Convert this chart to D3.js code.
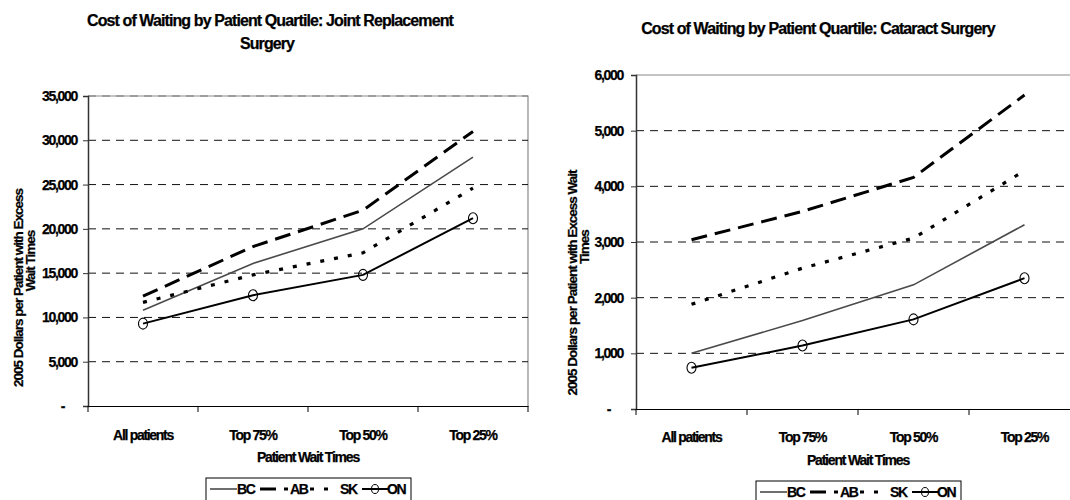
<!DOCTYPE html>
<html lang="en">
<head>
<meta charset="UTF-8">
<title>Cost of Waiting by Patient Quartile</title>
<style>
  body { margin: 0; background: #fff; overflow: hidden; }
  text { font-family: "Liberation Sans", Arial, sans-serif; font-weight: bold; fill: #000; stroke: #000; stroke-width: 0.25px; }
</style>
</head>
<body>
<div class="canvas"></div>
<script src="https://cdnjs.cloudflare.com/ajax/libs/d3/7.8.2/d3.min.js"></script>
<script>
// categories + series
const categories = ["All patients", "Top 75%", "Top 50%", "Top 25%"];
const seriesNames = ["BC", "AB", "SK", "ON"];

// joint replacement surgery (2005 dollars)
const jointBC = [10800, 16100, 20000, 28100];
const jointAB = [12400, 18000, 22100, 31000];
const jointSK = [11700, 14800, 17300, 24600];
const jointON = [9300, 12500, 14800, 21200];
const jointTicks = [0, 5000, 10000, 15000, 20000, 25000, 30000, 35000];

// cataract surgery (2005 dollars)
const catBC = [1000, 1590, 2230, 3310];
const catAB = [3040, 3550, 4160, 5640];
const catSK = [1880, 2530, 3070, 4280];
const catON = [740, 1140, 1610, 2350];
const catTicks = [0, 1000, 2000, 3000, 4000, 5000, 6000];

const styles = {
    BC: { stroke: "#4a4a4a", width: 1.6, dash: null },
    AB: { stroke: "#000", width: 3, dash: "16,8" },
    SK: { stroke: "#000", width: 3.2, dash: "4,10" },
    ON: { stroke: "#000", width: 2, dash: null }
};

const svg = d3.select(".canvas").append("svg")
    .attr("width", 1070)
    .attr("height", 500);

function drawPanel(cfg) {
    const x = d3.scaleBand().domain(categories).range([cfg.x0, cfg.x1]);
    const y = d3.scaleLinear().domain([0, d3.max(cfg.ticks)]).range([cfg.yBottom, cfg.yTop]);
    const g = svg.append("g");

    // plot border (top + right)
    g.append("path")
        .attr("d", `M${cfg.x0},${cfg.yTop}H${cfg.x1}V${cfg.yBottom}`)
        .attr("fill", "none").attr("stroke", "#8a8a8a").attr("stroke-width", 1.2);

    // gridlines
    const gridVals = cfg.ticks.filter(t => t > 0 && (cfg.topGrid || t < d3.max(cfg.ticks)));
    g.selectAll(".grid").data(gridVals).enter().append("line")
        .attr("x1", cfg.x0).attr("x2", cfg.x1)
        .attr("y1", d => y(d)).attr("y2", d => y(d))
        .attr("stroke", d => d === d3.max(cfg.ticks) ? "#777" : "#111")
        .attr("stroke-width", 1)
        .attr("stroke-dasharray", "8,6");

    // y axis
    const yAxis = d3.axisLeft(y).tickValues(cfg.ticks).tickSize(5).tickPadding(cfg.tickPad)
        .tickFormat(d => d === 0 ? "-" : d3.format(",")(d));
    const yg = g.append("g").attr("transform", `translate(${cfg.x0},0)`).call(yAxis);
    yg.select(".domain").attr("stroke", "#333").attr("stroke-width", 1.5);
    yg.selectAll(".tick line").attr("stroke", "#333");
    yg.selectAll(".tick text")
        .attr("font-size", 14)
        .attr("letter-spacing", "-1.3px")
        .attr("dx", d => d === 0 ? -13 : 0);

    // x axis (labels at band centres, tick marks at band edges)
    const xAxis = d3.axisBottom(x).tickSize(0).tickPadding(cfg.catPad);
    const xg = g.append("g").attr("transform", `translate(0,${cfg.yBottom})`).call(xAxis);
    xg.select(".domain").attr("stroke", "#000").attr("stroke-width", 1.2);
    xg.selectAll(".tick text")
        .attr("font-size", 14)
        .attr("letter-spacing", "-1.3px");
    const edges = categories.map(c => x(c)).concat([cfg.x1]);
    g.selectAll(".xedge").data(edges).enter().append("line")
        .attr("x1", d => d).attr("x2", d => d)
        .attr("y1", cfg.yBottom).attr("y2", cfg.yBottom + 6)
        .attr("stroke", "#000");

    // series lines
    const line = d3.line()
        .x((d, i) => x(categories[i]) + x.bandwidth() / 2)
        .y(d => y(d));
    seriesNames.forEach(name => {
        const s = styles[name];
        g.append("path")
            .datum(cfg.series[name])
            .attr("d", line)
            .attr("fill", "none")
            .attr("stroke", s.stroke)
            .attr("stroke-width", s.width)
            .attr("stroke-dasharray", s.dash);
    });
    g.selectAll(".marker").data(cfg.series.ON).enter().append("ellipse")
        .attr("cx", (d, i) => x(categories[i]) + x.bandwidth() / 2)
        .attr("cy", d => y(d))
        .attr("rx", 4.5).attr("ry", 5.5)
        .attr("fill", "none").attr("stroke", "#000").attr("stroke-width", 1.1);

    // titles
    cfg.title.forEach(t => {
        svg.append("text").attr("x", t.x).attr("y", t.y)
            .attr("text-anchor", "middle").attr("font-size", 16)
            .attr("letter-spacing", "-0.9px").text(t.text);
    });
    svg.append("text").attr("x", (cfg.x0 + cfg.x1) / 2).attr("y", cfg.xLabelY)
        .attr("text-anchor", "middle").attr("font-size", 14)
        .attr("letter-spacing", "-1.2px").text("Patient Wait Times");
    cfg.yLabel.forEach(t => {
        svg.append("text")
            .attr("transform", `translate(${t.x},${t.y}) rotate(-90)`)
            .attr("text-anchor", "middle").attr("font-size", 13.5)
            .attr("letter-spacing", "-1px").text(t.text);
    });

    // legend
    const lg = svg.append("g").attr("transform", `translate(${cfg.legendX},${cfg.legendY})`);
    lg.append("rect").attr("x", 0).attr("y", 0).attr("width", 205).attr("height", 24)
        .attr("fill", "#fff").attr("stroke", "#000").attr("stroke-width", 1);
    const items = [
        { name: "BC", lx: 4, lw: 27, tx: 31 },
        { name: "AB", lx: 54, lw: 28, tx: 84 },
        { name: "SK", lx: 104, lw: 26, tx: 134 },
        { name: "ON", lx: 156, lw: 26, tx: 181 }
    ];
    items.forEach(it => {
        const s = styles[it.name];
        lg.append("line").attr("x1", it.lx).attr("x2", it.lx + it.lw)
            .attr("y1", 11).attr("y2", 11)
            .attr("stroke", s.stroke).attr("stroke-width", s.width)
            .attr("stroke-dasharray", s.dash);
        if (it.name === "ON") {
            lg.append("ellipse").attr("cx", it.lx + it.lw / 2).attr("cy", 11)
                .attr("rx", 3.5).attr("ry", 4.5)
                .attr("fill", "none").attr("stroke", "#000").attr("stroke-width", 1);
        }
        lg.append("text").attr("x", it.tx).attr("y", 16)
            .attr("font-size", 14).attr("letter-spacing", "-1.3px").text(it.name);
    });
}

drawPanel({
    x0: 88, x1: 528, yTop: 96, yBottom: 406,
    ticks: jointTicks, topGrid: true, tickPad: 6, catPad: 24,
    series: { BC: jointBC, AB: jointAB, SK: jointSK, ON: jointON },
    title: [
        { text: "Cost of Waiting by Patient Quartile: Joint Replacement", x: 270, y: 26 },
        { text: "Surgery", x: 267, y: 49 }
    ],
    xLabelY: 462,
    yLabel: [
        { text: "2005 Dollars per Patient with Excess", x: 23, y: 288 },
        { text: "Wait Times", x: 35, y: 261 }
    ],
    legendX: 206, legendY: 478
});

drawPanel({
    x0: 636, x1: 1080, yTop: 75, yBottom: 409,
    ticks: catTicks, topGrid: false, tickPad: 8, catPad: 23,
    series: { BC: catBC, AB: catAB, SK: catSK, ON: catON },
    title: [
        { text: "Cost of Waiting by Patient Quartile: Cataract Surgery", x: 818, y: 34 }
    ],
    xLabelY: 465,
    yLabel: [
        { text: "2005 Dollars per Patient with Excess Wait", x: 577, y: 283 },
        { text: "Times", x: 589, y: 247 }
    ],
    legendX: 756, legendY: 481
});
</script>
</body>
</html>
